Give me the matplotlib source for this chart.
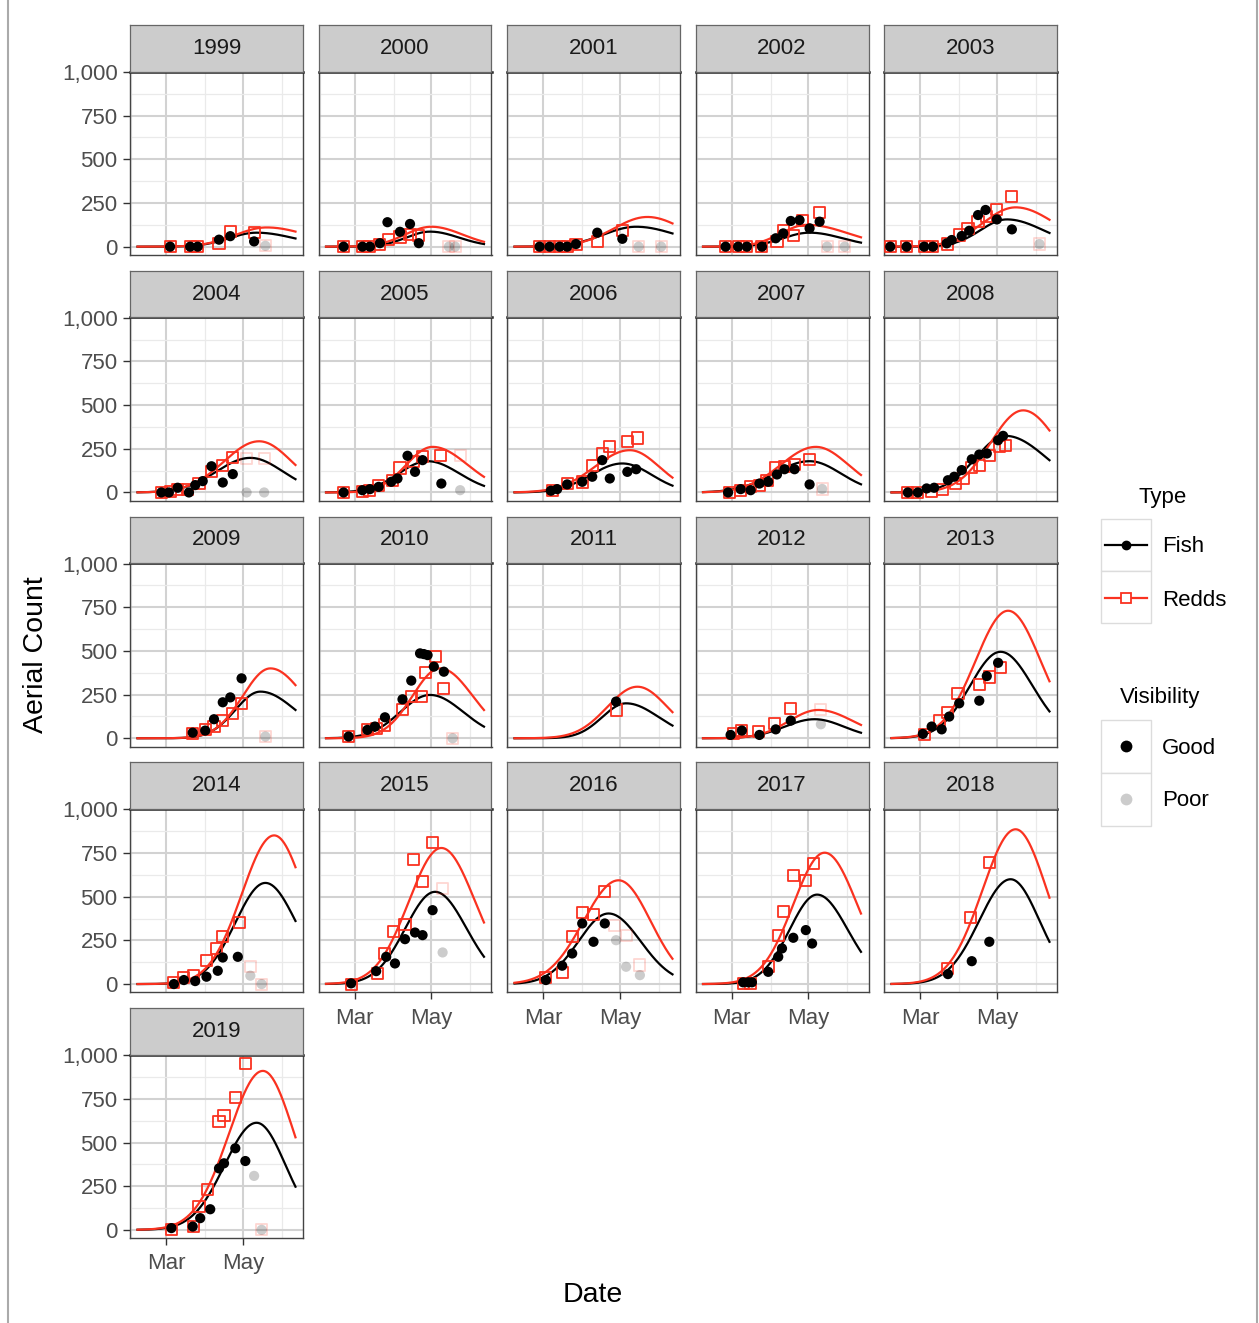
import numpy as np
import matplotlib.pyplot as plt
from matplotlib.patches import Rectangle

plt.rcParams['font.family'] = ['Liberation Sans', 'DejaVu Sans']

years = list(range(1999, 2020))

fish_days = {
    1999: [3, 19, 25, 42, 51, 70],
    2000: [-9, 6, 12, 20, 26, 36, 44, 51],
    2001: [-3, 5, 13, 19, 26, 43, 63],
    2002: [-5, 5, 12, 24, 35, 41, 47, 54, 62, 70],
    2003: [-24, -11, 3, 10, 21, 25, 33, 39, 46, 52, 61, 73],
    2004: [-4, 2, 9, 18, 23, 29, 36, 45, 53],
    2005: [-9, 6, 12, 19, 29, 34, 42, 48, 54, 69],
    2006: [6, 11, 19, 31, 39, 47, 53, 67, 74],
    2007: [-3, 7, 15, 22, 29, 36, 42, 50, 62],
    2008: [-10, -2, 5, 11, 22, 27, 33, 41, 47, 53, 62, 66],
    2009: [21, 31, 38, 45, 51, 60],
    2010: [-5, 10, 16, 24, 38, 45, 52, 55, 58, 63, 71],
    2011: [58],
    2012: [-1, 8, 22, 35, 47],
    2013: [2, 9, 17, 23, 31, 47, 53, 62],
    2014: [6, 14, 23, 32, 41, 45, 57],
    2015: [-3, 17, 25, 32, 40, 48, 54, 62],
    2016: [2, 15, 23, 31, 40, 49],
    2017: [9, 13, 16, 29, 37, 40, 49, 59, 64],
    2018: [22, 41, 55],
    2019: [4, 21, 27, 35, 42, 46, 55, 63],
}
fish_counts = {
    1999: [0, 0, 0, 40, 60, 30],
    2000: [0, 0, 0, 20, 140, 85, 130, 20],
    2001: [0, 0, 0, 0, 15, 80, 45],
    2002: [0, 0, 0, 0, 48, 76, 147, 152, 105, 143],
    2003: [0, 0, 0, 0, 19, 38, 61, 91, 181, 210, 156, 99],
    2004: [0, 0, 27, 0, 42, 65, 150, 57, 105],
    2005: [0, 13, 19, 32, 61, 80, 210, 118, 185, 51],
    2006: [10, 19, 46, 61, 90, 185, 80, 118, 133],
    2007: [0, 19, 13, 51, 61, 103, 133, 133, 46],
    2008: [0, 0, 23, 27, 70, 90, 128, 190, 217, 223, 299, 324],
    2009: [32, 44, 109, 206, 234, 343],
    2010: [10, 48, 67, 120, 223, 330, 486, 482, 476, 410, 381],
    2011: [210],
    2012: [19, 44, 19, 51, 101],
    2013: [25, 67, 51, 124, 200, 215, 356, 432],
    2014: [0, 23, 17, 42, 76, 152, 156],
    2015: [4, 74, 156, 118, 257, 295, 280, 423],
    2016: [23, 105, 175, 347, 242, 347],
    2017: [10, 10, 10, 70, 156, 204, 265, 309, 232],
    2018: [57, 131, 242],
    2019: [10, 19, 67, 118, 352, 381, 467, 394],
}
redd_days = {
    1999: [3, 19, 25, 42, 51, 70],
    2000: [-9, 6, 12, 20, 27, 36, 44, 51],
    2001: [-3, 5, 13, 19, 26, 43, 63],
    2002: [-5, 5, 12, 24, 36, 41, 49, 56, 70],
    2003: [-24, -11, 3, 10, 22, 31, 38, 46, 53, 61, 73],
    2004: [-4, 3, 9, 17, 26, 36, 45, 53],
    2005: [-9, 6, 12, 19, 30, 36, 47, 54, 68],
    2006: [7, 19, 31, 39, 47, 53, 67, 75],
    2007: [-2, 7, 15, 22, 28, 35, 42, 50, 62],
    2008: [-10, -2, 9, 18, 28, 34, 41, 47, 55, 63, 68],
    2009: [21, 31, 38, 45, 53, 60],
    2010: [-5, 10, 17, 24, 38, 45, 53, 56, 64, 71],
    2011: [58],
    2012: [1, 8, 21, 34, 47],
    2013: [3, 15, 22, 30, 47, 55, 64],
    2014: [6, 14, 22, 32, 40, 45, 58],
    2015: [-3, 18, 24, 31, 40, 47, 54, 62],
    2016: [2, 15, 23, 31, 40, 49],
    2017: [9, 15, 29, 37, 41, 49, 59, 65],
    2018: [22, 40, 55],
    2019: [4, 22, 26, 33, 42, 46, 55, 63],
}
redd_counts = {
    1999: [0, 0, 0, 20, 85, 80],
    2000: [0, 0, 0, 10, 40, 55, 70, 65],
    2001: [0, 0, 0, 0, 10, 30, 95],
    2002: [0, 0, 0, 0, 30, 90, 65, 150, 195],
    2003: [0, 0, 0, 0, 15, 67, 105, 143, 171, 213, 286],
    2004: [0, 8, 19, 19, 51, 118, 156, 198],
    2005: [0, 5, 10, 40, 70, 140, 175, 205, 210],
    2006: [13, 51, 60, 156, 223, 261, 293, 312],
    2007: [0, 10, 32, 40, 70, 141, 147, 160, 190],
    2008: [0, 0, 8, 19, 51, 80, 141, 156, 210, 261, 270],
    2009: [29, 51, 67, 101, 143, 200],
    2010: [10, 51, 57, 76, 166, 238, 238, 375, 467, 286],
    2011: [162],
    2012: [25, 44, 38, 86, 171],
    2013: [19, 103, 150, 255, 309, 351, 404],
    2014: [10, 36, 48, 133, 204, 270, 352],
    2015: [0, 61, 175, 303, 341, 712, 589, 810],
    2016: [36, 67, 270, 410, 398, 531],
    2017: [4, 4, 99, 280, 417, 619, 594, 690],
    2018: [90, 379, 695],
    2019: [0, 19, 133, 229, 619, 657, 758, 952],
}

# flights with poor visibility
poor_fish_days = {1999: [79], 2000: [75, 80], 2001: [76, 94], 2002: [76, 90], 2003: [95],
                  2004: [64, 78], 2005: [84], 2007: [72], 2009: [79], 2010: [78], 2012: [71],
                  2014: [67, 76], 2015: [70], 2016: [58, 66, 77], 2019: [70, 76]}
poor_fish_counts = {1999: [5], 2000: [0, 0], 2001: [0, 0], 2002: [0, 0], 2003: [15],
                    2004: [0, 0], 2005: [13], 2007: [20], 2009: [10], 2010: [0], 2012: [80],
                    2014: [48, 0], 2015: [181], 2016: [251, 99, 51], 2019: [309, 0]}
poor_redd_days = {1999: [79], 2000: [75, 80], 2001: [76, 94], 2002: [76, 90], 2003: [95],
                  2004: [64, 78], 2005: [84], 2007: [72], 2009: [79], 2010: [78], 2012: [71],
                  2014: [67, 76], 2015: [70], 2016: [57, 66, 77], 2019: [76]}
poor_redd_counts = {1999: [5], 2000: [0, 0], 2001: [0, 0], 2002: [0, 0], 2003: [15],
                    2004: [195, 195], 2005: [210], 2007: [20], 2009: [10], 2010: [0], 2012: [165],
                    2014: [99, 0], 2015: [547], 2016: [333, 280, 109], 2019: [0]}

# fitted run curves: peak height, day of peak, spread before and after the peak
fish_peak = [80, 86, 114, 80, 156, 198, 179, 166, 179, 324, 267, 248, 200, 109, 495, 579, 528, 404, 512, 600, 613]
fish_peak_day = [72, 60, 74, 62, 69, 67, 58, 63, 62, 68, 75, 60, 66, 66, 64, 79, 64, 52, 68, 72, 72]
fish_sd_rise = [22, 19, 26, 21, 21, 27, 23, 25, 28.5, 24, 20, 23.7, 19, 24, 24.4, 24, 23.7, 24, 22, 25, 25.5]
fish_sd_fall = [30, 23, 32, 26, 29, 26, 25.5, 23.5, 25, 33, 28, 26.5, 26, 23.5, 25.5, 24.7, 25, 25.6, 24.5, 23, 23]
redd_peak = [110, 114, 170, 125, 225, 293, 261, 242, 261, 470, 400, 400, 295, 162, 730, 851, 779, 594, 752, 886, 910]
redd_peak_day = [80, 61, 83, 60, 76, 74, 62, 69, 67, 82, 83, 68, 75, 69, 70, 86, 69, 60, 74, 76, 77]
redd_sd_rise = [25, 21, 27, 21, 26, 28, 21, 28, 28, 26, 22, 22, 24, 23.5, 26, 25.8, 26, 28, 25, 26.5, 27]
redd_sd_fall = [33, 25, 28.5, 33, 31, 26, 28, 23.5, 26, 28, 27, 26, 24, 27.7, 26, 24.5, 27, 25.6, 26, 25, 25]

FISH_COL = 'black'
REDD_COL = '#FA3220'
W, H = 1259, 1323

fig = plt.figure(figsize=(W / 100, H / 100), dpi=100)


def px_box(left, top, width, height):
    return [left / W, 1 - (top + height) / H, width / W, height / H]


curve_days = np.linspace(-23, 103, 250)


def run_curve(peak, peak_day, sd_rise, sd_fall):
    sd = np.where(curve_days < peak_day, sd_rise, sd_fall)
    return peak * np.exp(-0.5 * ((curve_days - peak_day) / sd) ** 2)


for i, year in enumerate(years):
    row, col = divmod(i, 5)
    left = 130 + 188.5 * col
    top = 71.5 + 245.8 * row
    ax = fig.add_axes(px_box(left, top, 173, 183.5))
    strip = fig.add_axes(px_box(left, top - 46.5, 173, 46.5))

    # strip label
    strip.set_facecolor('#CCCCCC')
    strip.set_xticks([])
    strip.set_yticks([])
    for s in strip.spines.values():
        s.set_color('#666666')
        s.set_linewidth(0.9)
    strip.text(0.5, 0.5, str(year), ha='center', va='center', fontsize=16, color='#1A1A1A',
               transform=strip.transAxes)

    ax.plot(curve_days, run_curve(fish_peak[i], fish_peak_day[i], fish_sd_rise[i], fish_sd_fall[i]),
            color=FISH_COL, lw=1.6, zorder=2)
    ax.plot(curve_days, run_curve(redd_peak[i], redd_peak_day[i], redd_sd_rise[i], redd_sd_fall[i]),
            color=REDD_COL, lw=1.6, zorder=2)

    ax.scatter(redd_days[year], redd_counts[year], marker='s', s=64, facecolors='none',
               edgecolors=REDD_COL, linewidths=1.3, zorder=3)
    ax.scatter(fish_days[year], fish_counts[year], marker='o', s=54, color=FISH_COL,
               edgecolors='none', zorder=4)
    if year in poor_redd_days:
        ax.scatter(poor_redd_days[year], poor_redd_counts[year], marker='s', s=64, facecolors='none',
                   edgecolors=REDD_COL, linewidths=1.3, alpha=0.2, zorder=3)
    if year in poor_fish_days:
        ax.scatter(poor_fish_days[year], poor_fish_counts[year], marker='o', s=54, color=FISH_COL,
                   edgecolors='none', alpha=0.2, zorder=4)

    ax.set_xlim(-29, 109)
    ax.set_ylim(-47.75, 1002.75)
    ax.set_xticks([0, 61])
    ax.set_xticks([-28, 31, 92], minor=True)
    ax.set_xticklabels(['Mar', 'May'])
    ax.set_yticks([0, 250, 500, 750, 1000])
    ax.set_yticks([125, 375, 625, 875], minor=True)
    ax.set_yticklabels(['0', '250', '500', '750', '1,000'])
    ax.grid(which='major', color='#D2D2D2', lw=1.5)
    ax.grid(which='minor', color='#EAEAEA', lw=0.9)
    ax.set_axisbelow(True)
    for s in ax.spines.values():
        s.set_color('#444444')
        s.set_linewidth(1.0)
    ax.spines['top'].set_color('#222222')
    ax.spines['top'].set_linewidth(1.8)
    ax.tick_params(which='minor', length=0)
    ax.tick_params(which='major', length=5, width=1, color='#333333', labelcolor='#4D4D4D',
                   labelsize=16, pad=4)
    ax.tick_params(axis='x', which='major', pad=6)

    if not (row == 4 or (row == 3 and col >= 1)):
        ax.tick_params(axis='x', which='major', length=0, labelbottom=False)
    if col != 0:
        ax.tick_params(axis='y', which='major', length=0, labelleft=False)

# overlay in pixel units for titles, legend and the screenshot frame
over = fig.add_axes([0, 0, 1, 1], facecolor='none')
over.set_xlim(0, W)
over.set_ylim(H, 0)
over.axis('off')

over.axvline(8, color='#AAAAAA', lw=1.5)
over.axvline(1257.5, color='#AAAAAA', lw=1.5)

over.text(36, 655, 'Aerial Count', rotation=90, ha='center', va='center', fontsize=20.5, color='black')
over.text(593, 1295, 'Date', ha='center', va='center', fontsize=20.5, color='black')

# legend: Type
over.text(1163, 497, 'Type', ha='center', va='center', fontsize=16, color='black')
for y0 in (519, 571):
    over.add_patch(Rectangle((1101, y0), 50, 52, facecolor='white', edgecolor='#DCDCDC', lw=1))
over.plot([1105, 1147], [545, 545], color=FISH_COL, lw=1.6)
over.plot([1126], [545], marker='o', ms=6, color=FISH_COL)
over.plot([1105, 1147], [598, 598], color=REDD_COL, lw=1.6)
over.plot([1126], [598], marker='s', ms=7, mfc='white', mec=REDD_COL, mew=1.3)
over.text(1162, 547, 'Fish', ha='left', va='center', fontsize=16, color='black')
over.text(1162, 600, 'Redds', ha='left', va='center', fontsize=16, color='black')

# legend: Visibility
over.text(1160, 698, 'Visibility', ha='center', va='center', fontsize=16, color='black')
for y0 in (720, 773):
    over.add_patch(Rectangle((1101, y0), 50, 53, facecolor='white', edgecolor='#DCDCDC', lw=1))
over.plot([1126], [746], marker='o', ms=8.5, color='black', mec='none')
over.plot([1126], [799], marker='o', ms=8.5, color='black', alpha=0.2, mec='none')
over.text(1162, 748, 'Good', ha='left', va='center', fontsize=16, color='black')
over.text(1162, 801, 'Poor', ha='left', va='center', fontsize=16, color='black')

fig.savefig('out.png', dpi=100)
